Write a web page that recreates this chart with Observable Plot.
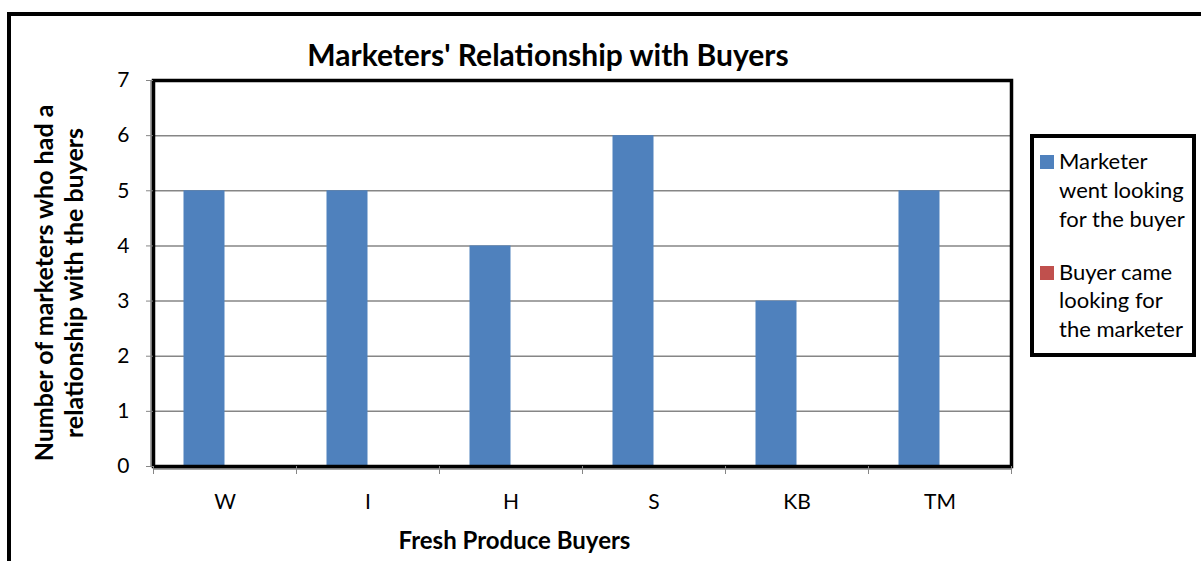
<!DOCTYPE html>
<html><head><meta charset="utf-8">
<script src="https://cdn.jsdelivr.net/npm/d3@7"></script>
<script src="https://cdn.jsdelivr.net/npm/@observablehq/plot@0.6"></script>
<style>
html,body{margin:0;padding:0;background:#fff;overflow:hidden}
#wrap{position:relative;width:1201px;height:561px;overflow:hidden;font-family:Lato,sans-serif;color:#000}
#wrap svg{position:absolute;left:0;top:0}
#outer{position:absolute;left:7px;top:12px;width:1400px;height:800px;border:4px solid #000;box-sizing:border-box}
</style></head><body><div id="wrap"><div id="outer"></div></div>
<script>
const buyers = ["W","I","H","S","KB","TM"];
const seriesNames = ["Marketer went looking for the buyer","Buyer came looking for the marketer"];
const wentLooking = [5,5,4,6,3,5];
const cameLooking = [0,0,0,0,0,0];
const yTicks = [0,1,2,3,4,5,6,7];
const titleText = "Marketers' Relationship with Buyers";
const xTitle = "Fresh Produce Buyers";
const yTitleLines = ["Number of marketers who had a","relationship with the buyers"];
const legendLines = [["Marketer","went looking","for the buyer"],["Buyer came","looking for","the marketer"]];
const colors = ["#4F81BD","#C0504D"];
const gray = "#868686";

const rows = buyers.flatMap((b,i)=>[
  {buyer:b, series:seriesNames[0], value:wentLooking[i]},
  {buyer:b, series:seriesNames[1], value:cameLooking[i]}
]);

const W=1201, H=561, mL=153, mR=190, mT=80, mB=95;
const bw = (W-mL-mR)/buyers.length;
const outerGap = bw*0.2133, barW = bw*0.2867;
const farInset = bw - outerGap - barW;

const chart = Plot.plot({
  width: W, height: H,
  marginLeft: mL, marginRight: mR, marginTop: mT, marginBottom: mB,
  style: {fontFamily: "Lato, sans-serif", color: "#000", background: "transparent"},
  x: {type: "band", domain: buyers, paddingInner: 0, paddingOuter: 0},
  y: {domain: [0,7]},
  marks: [
    Plot.gridY(yTicks.filter(t=>t>0 && t<7), {stroke: gray, strokeOpacity: 1, strokeWidth: 1.5}),
    Plot.barY(rows.filter(d=>d.series===seriesNames[0]), {x:"buyer", y:"value", fill: colors[0], insetLeft: outerGap, insetRight: farInset}),
    Plot.barY(rows.filter(d=>d.series===seriesNames[1]), {x:"buyer", y:"value", fill: colors[1], insetLeft: farInset, insetRight: outerGap}),
    Plot.ruleX([buyers[0]], {dx: -bw/2 - 2.5, stroke: gray, strokeWidth: 1.5}),
    Plot.ruleY([0], {stroke: gray, strokeWidth: 1.5, dy: 2.5}),
    Plot.frame({stroke: "#000", strokeWidth: 3.5}),
    Plot.axisY({ticks: yTicks, tickSize: 7, tickPadding: 17, fontSize: 21, stroke: gray, label: null, tickFormat: d=>String(d)}),
    Plot.axisX({tickSize: 0, tickPadding: 28, fontSize: 21, label: null}),
    Plot.axisX({ticks: buyers, tickSize: 8, dx: -bw/2, tickFormat: ()=>"", label: null, stroke: gray}),
    Plot.axisX({ticks: [buyers[buyers.length-1]], tickSize: 8, dx: bw/2, tickFormat: ()=>"", label: null, stroke: gray})
  ]
});
const wrap = document.getElementById("wrap");
wrap.appendChild(chart);

// overlay: title, axis titles, legend
const ov = d3.select(wrap).append("svg").attr("width", W).attr("height", H)
  .style("font-family", "Lato, sans-serif");
ov.append("text").attr("x", 548).attr("y", 66).attr("text-anchor","middle")
  .attr("font-size", 30).attr("font-weight", 700).text(titleText);
ov.append("text").attr("x", 514.5).attr("y", 549).attr("text-anchor","middle")
  .attr("font-size", 24).attr("font-weight", 700).text(xTitle);
[53, 83].forEach((bx, i) => {
  ov.append("text").attr("transform", `translate(${bx},283) rotate(-90)`)
    .attr("text-anchor","middle").attr("font-size", 25).attr("font-weight", 700)
    .text(yTitleLines[i]);
});
// legend
ov.append("rect").attr("x", 1032).attr("y", 136).attr("width", 162).attr("height", 219)
  .attr("fill", "#fff").attr("stroke", "#000").attr("stroke-width", 4);
const legBase = [[169,198,227],[280,308,337]];
legendLines.forEach((lines, s) => {
  ov.append("rect").attr("x", 1040).attr("y", legBase[s][0]-14).attr("width", 14).attr("height", 14)
    .attr("fill", colors[s]);
  lines.forEach((t, j) => {
    ov.append("text").attr("x", 1059).attr("y", legBase[s][j]).attr("font-size", 22).text(t);
  });
});
</script></body></html>
